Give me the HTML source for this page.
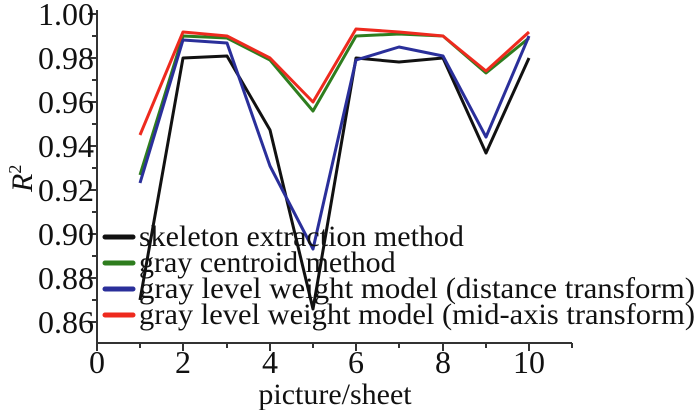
<!DOCTYPE html><html><head><style>body{margin:0;background:#fff}svg{display:block}text{font-family:"Liberation Serif",serif;fill:#111}</style></head><body>
<svg width="700" height="410" viewBox="0 0 700 410">
<g stroke="#333" stroke-width="2" fill="none">
<path d="M97 10V343H572"/>
<path d="M97 14h-9M97 58h-9M97 102h-9M97 146h-9M97 190h-9M97 234h-9M97 278h-9M97 322h-9"/>
<path d="M97 36h-5M97 80h-5M97 124h-5M97 168h-5M97 212h-5M97 256h-5M97 300h-5"/>
<path d="M97 343v8M183 343v8M270 343v8M356 343v8M443 343v8M529 343v8M140 343v5M227 343v5M313 343v5M399 343v5M486 343v5M572 343v5"/>
</g>
<g font-size="32" text-anchor="end">
<text x="94" y="25">1.00</text><text x="94" y="69">0.98</text><text x="94" y="113">0.96</text><text x="94" y="157">0.94</text><text x="94" y="201">0.92</text><text x="94" y="245">0.90</text><text x="94" y="289">0.88</text><text x="94" y="333">0.86</text>
</g>
<g font-size="32" text-anchor="middle">
<text x="97" y="373">0</text><text x="183" y="373">2</text><text x="270" y="373">4</text><text x="356" y="373">6</text><text x="443" y="373">8</text><text x="529" y="373">10</text>
<text x="335" y="404" font-size="30">picture/sheet</text>
</g>
<text transform="translate(32,192) rotate(-90)" font-size="30" font-style="italic">R<tspan font-style="normal" font-size="18" dy="-11">2</tspan></text>
<g fill="none" stroke-width="3" stroke-linejoin="round">
<polyline stroke="#111" points="140,300 183,58 227,56 270,130 313,309 356,58 399,62 443,58 486,153 529,58"/>
<polyline stroke="#2e7d1e" points="140,175 183,36 227,38 270,60 313,111 356,36 399,34 443,36 486,73 529,38"/>
<polyline stroke="#2a2f9a" points="140,183 183,40 227,43 270,166 313,249 356,60 399,47 443,56 486,137 529,36"/>
<polyline stroke="#ee2a1e" points="140,135 183,32 227,36 270,58 313,102 356,29 399,32 443,36 486,71 529,32"/>
</g>
<g stroke-width="5" stroke-linecap="round">
<line x1="105" y1="237" x2="133" y2="237" stroke="#111"/>
<line x1="105" y1="263" x2="133" y2="263" stroke="#2e7d1e"/>
<line x1="105" y1="289" x2="133" y2="289" stroke="#2a2f9a"/>
<line x1="105" y1="315" x2="133" y2="315" stroke="#ee2a1e"/>
</g>
<g font-size="30" textLength="556">
<text x="139" y="246">skeleton extraction method</text>
<text x="139" y="272">gray centroid method</text>
<text x="139" y="298" textLength="556" lengthAdjust="spacingAndGlyphs">gray level weight model (distance transform)</text>
<text x="139" y="324" textLength="556" lengthAdjust="spacingAndGlyphs">gray level weight model (mid-axis transform)</text>
</g>
</svg></body></html>
